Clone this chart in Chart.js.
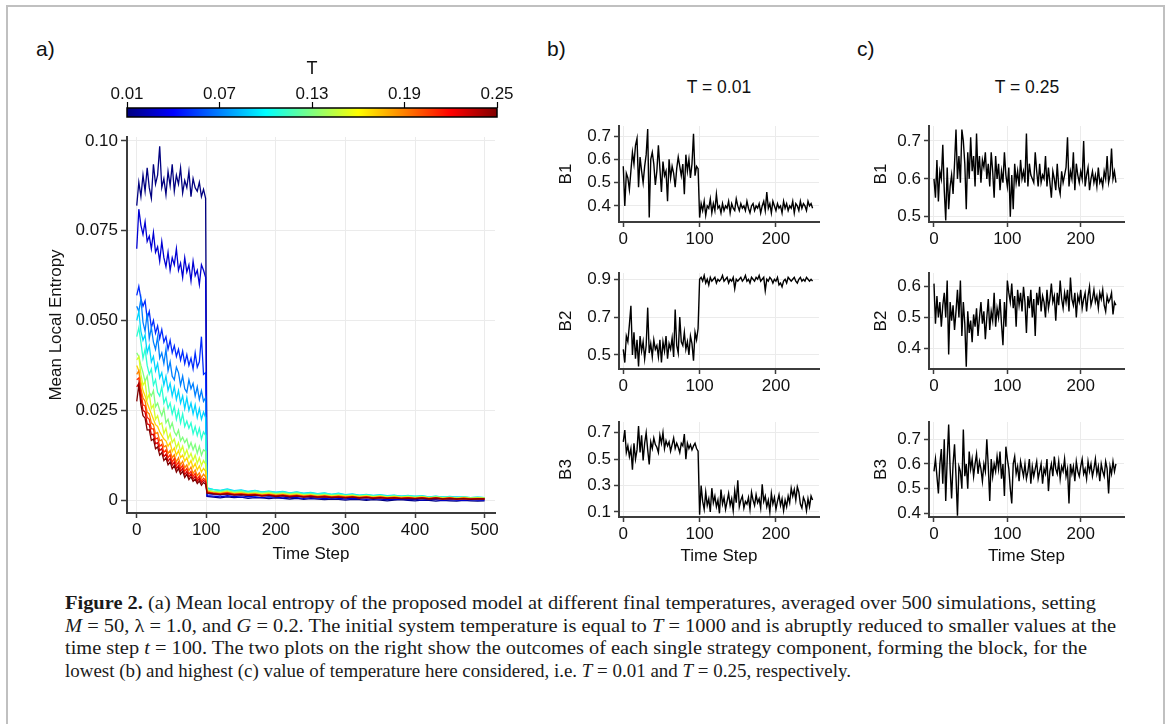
<!DOCTYPE html>
<html>
<head>
<meta charset="utf-8">
<script src="https://cdn.jsdelivr.net/npm/chart.js@4.4.1/dist/chart.umd.min.js"></script>
<style>
body { margin: 0; background: #fff; }
#fig { position: relative; width: 1167px; height: 724px; overflow: hidden; background: #fff;
       font-family: "Liberation Sans", Arial, sans-serif; color: #111; }
#frame { position: absolute; left: 6px; top: 5px; width: 1159px; height: 760px; box-sizing: border-box;
         border: 2px solid #c0c0c0; }
canvas { position: absolute; }
.lbl { position: absolute; font-size: 21px; line-height: 21px; }
.ttl { position: absolute; font-size: 17.5px; line-height: 18px; transform: translateX(-50%); white-space: nowrap; }
#caption { position: absolute; left: 65px; top: 592px; font-family: "Liberation Serif", "Times New Roman", serif;
           font-size: 19.5px; line-height: 22.7px; color: #1a1a1a; }
#caption div { white-space: nowrap; }
#caption span { display: inline-block; transform-origin: 0 0; }
</style>
</head>
<body>
<div id="fig">
  <div id="frame"></div>
  <div class="lbl" style="left:36px;top:38px">a)</div>
  <div class="lbl" style="left:547px;top:38px">b)</div>
  <div class="lbl" style="left:857px;top:38px">c)</div>
  <div class="ttl" style="left:719px;top:78px">T = 0.01</div>
  <div class="ttl" style="left:1027px;top:78px">T = 0.25</div>
  <canvas id="cbar"></canvas>
  <canvas id="entropy"></canvas>
  <canvas id="b1"></canvas>
  <canvas id="b2"></canvas>
  <canvas id="b3"></canvas>
  <canvas id="c1"></canvas>
  <canvas id="c2"></canvas>
  <canvas id="c3"></canvas>
  <div id="caption">
    <div><span><b>Figure 2.</b> (a) Mean local entropy of the proposed model at different final temperatures, averaged over 500 simulations, setting</span></div>
    <div><span><i>M</i> = 50, λ = 1.0, and <i>G</i> = 0.2. The initial system temperature is equal to <i>T</i> = 1000 and is abruptly reduced to smaller values at the</span></div>
    <div><span>time step <i>t</i> = 100. The two plots on the right show the outcomes of each single strategy component, forming the block, for the</span></div>
    <div><span>lowest (b) and highest (c) value of temperature here considered, i.e. <i>T</i> = 0.01 and <i>T</i> = 0.25, respectively.</span></div>
  </div>
</div>
<script>
// ---- panel a: mean local entropy, values in units of 1e-4 ----
var temps = [0.01, 0.03, 0.05, 0.07, 0.09, 0.11, 0.13, 0.15, 0.17, 0.19, 0.21, 0.23, 0.25];
var stepsPre = [0,3,6,9,12,15,18,21,24,27,30,33,36,39,42,45,48,51,54,57,60,63,66,69,72,75,78,81,84,87,90,93,96,99];
var stepsPost = [101,110,120,130,140,150,160,170,180,190,200,210,220,230,240,250,260,270,280,290,300,
                 310,320,330,340,350,360,370,380,390,400,410,420,430,440,450,460,470,480,490,500];

var pre001 = [820,885,845,905,860,925,870,840,935,880,905,985,870,895,850,915,875,935,860,905,880,925,855,890,870,915,845,895,870,860,885,845,865,840];
var pre003 = [700,810,765,740,775,720,735,700,745,690,705,665,720,675,650,690,640,675,655,700,640,660,620,675,635,655,610,665,625,640,600,655,640,620];
var pre005 = [570,595,560,540,555,505,525,480,500,465,485,450,475,440,455,420,445,410,430,400,420,390,415,380,405,375,395,365,410,370,385,455,350,355];
var pre007 = [540,525,560,495,470,520,450,480,440,420,455,395,410,380,420,360,385,345,335,370,355,320,345,310,300,335,310,325,290,315,280,305,275,285];
var pre009 = [500,525,470,445,460,410,430,385,400,360,380,340,355,320,345,305,325,290,315,280,305,270,290,255,285,250,270,240,265,230,255,225,245,230];
var pre011 = [455,480,440,395,420,375,350,365,320,335,300,290,315,270,285,255,270,240,260,225,250,215,240,205,220,200,215,185,205,180,200,170,190,180];
var pre013 = [410,400,375,355,330,345,300,290,305,260,270,250,235,255,215,225,200,215,190,180,195,165,175,160,170,145,160,140,155,130,150,125,140,135];
var pre015 = [390,400,350,320,330,280,295,255,265,225,235,210,215,185,200,170,185,160,170,145,160,135,150,125,140,118,130,110,125,102,118,96,110,100];
var pre017 = [375,360,330,305,290,270,255,240,225,210,205,190,180,170,165,150,160,135,145,125,138,118,125,108,118,98,110,90,102,84,95,78,88,80];
var pre019 = [350,360,310,285,275,245,240,215,210,185,188,165,168,148,152,130,138,118,126,106,118,98,108,90,98,82,92,74,84,68,76,62,72,65];
var pre021 = [335,340,300,265,262,230,225,198,198,170,173,150,155,133,140,118,126,106,116,96,106,88,97,80,88,72,80,66,74,58,67,53,61,55];
var pre023 = [315,325,285,250,245,212,210,182,183,157,160,138,143,121,128,108,116,97,106,87,96,80,88,71,80,64,73,58,66,52,60,48,55,50];
var pre025 = [275,320,265,235,228,195,196,166,170,143,148,125,132,110,118,98,106,87,96,78,88,72,80,63,72,57,65,52,58,46,53,41,49,44];

var post001 = [10,8,6,9,7,8,5,7,6,4,6,5,3,5,2,4,3,1,3,2,0,2,1,-1,1,0,-2,0,1,-1,-2,0,-1,-3,-1,-2,-3,-1,-2,-3,-2];
var post003 = [12,11,9,12,10,8,10,9,7,9,8,6,8,7,5,7,6,4,6,5,3,5,4,2,4,3,1,3,2,1,2,0,2,1,-1,1,0,-1,1,0,0];
var post005 = [18,16,14,17,15,13,15,12,14,11,13,12,10,12,9,11,10,8,10,9,7,9,8,6,8,7,5,7,6,4,6,5,3,5,4,2,4,3,2,3,2];
var post007 = [26,23,21,24,20,22,19,21,18,20,17,19,16,18,15,17,14,16,13,15,12,14,11,13,10,12,9,11,10,8,10,9,7,9,8,6,8,7,5,6,5];
var post009 = [34,30,27,31,26,28,24,27,23,25,22,24,20,23,19,21,18,20,16,19,15,17,14,16,13,15,12,14,11,13,10,12,9,11,8,10,8,9,7,8,7];
var post011 = [32,29,26,29,25,27,23,26,22,24,21,23,19,22,18,20,17,19,16,18,14,16,13,15,12,14,11,13,10,12,10,11,9,10,8,9,7,9,7,8,7];
var post013 = [28,25,23,26,22,24,20,22,19,21,18,20,17,19,15,17,14,16,13,15,12,14,11,13,10,12,9,11,9,10,8,10,7,9,7,8,6,8,6,7,6];
var post015 = [26,23,21,24,20,21,18,20,17,19,16,18,15,17,14,15,13,14,12,13,11,13,10,12,9,11,9,10,8,9,7,9,6,8,6,7,5,7,5,6,5];
var post017 = [24,21,19,22,18,20,17,18,15,17,14,16,13,15,12,14,11,13,10,12,10,11,9,10,8,10,7,9,7,8,6,8,6,7,5,6,5,6,4,5,5];
var post019 = [23,20,18,21,17,18,16,17,14,16,13,15,12,14,11,13,10,12,9,11,9,10,8,9,7,9,6,8,6,7,5,7,5,6,4,6,4,5,4,5,4];
var post021 = [22,19,17,20,16,17,15,16,13,15,12,14,11,13,10,12,9,11,8,10,8,9,7,9,6,8,6,7,5,7,5,6,4,6,4,5,3,5,3,4,4];
var post023 = [20,18,16,18,15,16,14,15,12,14,11,13,10,12,9,11,8,10,8,9,7,9,6,8,6,7,5,7,5,6,4,6,4,5,3,5,3,4,3,4,3];
var post025 = [19,17,15,17,14,15,13,14,11,13,10,12,9,11,8,10,8,9,7,8,6,8,6,7,5,7,5,6,4,5,4,5,3,5,3,4,3,4,2,3,3];

var entropyPre = [pre001, pre003, pre005, pre007, pre009, pre011, pre013, pre015, pre017, pre019, pre021, pre023, pre025];
var entropyPost = [post001, post003, post005, post007, post009, post011, post013, post015, post017, post019, post021, post023, post025];

var entropyTicks = [0, 0.025, 0.05, 0.075, 0.1];
var entropyTickLabels = ['0', '0.025', '0.050', '0.075', '0.10'];
var timeTicksA = [0, 100, 200, 300, 400, 500];
var cbarTicks = [0.01, 0.07, 0.13, 0.19, 0.25];
var cbarTickLabels = ['0.01', '0.07', '0.13', '0.19', '0.25'];

// ---- panels b, c: block components, values in hundredths ----
var blockSteps = [0,2,4,6,8,10,12,14,16,18,20,22,24,26,28,30,32,34,36,38,40,42,44,46,48,50,52,54,56,58,60,62,64,66,68,70,72,74,76,78,
  80,82,84,86,88,90,92,94,96,98,100,102,104,106,108,110,112,114,116,118,120,122,124,126,128,130,132,134,136,138,140,142,144,146,148,
  150,152,154,156,158,160,162,164,166,168,170,172,174,176,178,180,182,184,186,188,190,192,194,196,198,200,202,204,206,208,210,212,214,
  216,218,220,222,224,226,228,230,232,234,236,238,240,242,244,246,248];

var lowB1 = [57,40,54,52,47,55,63,58,66,69,48,61,55,50,57,62,73,35,60,63,58,49,55,66,56,46,59,53,55,42,60,52,57,54,48,56,61,57,53,58,
  45,62,55,60,52,58,71,53,57,56,35,41,38,42,36,40,39,43,37,41,38,45,39,40,37,41,38,40,39,42,37,41,39,38,43,40,38,41,39,40,
  38,42,39,37,40,41,38,40,39,41,37,40,42,38,46,39,41,37,42,40,38,41,39,40,37,42,39,41,38,40,39,42,37,41,40,38,42,39,41,40,
  38,42,40,41,39];
var lowB2 = [53,46,60,57,66,76,50,62,48,58,44,60,52,57,48,55,75,51,56,49,58,53,55,49,58,46,57,52,60,48,56,53,59,49,74,55,51,70,57,55,
  62,53,57,50,60,56,47,62,58,64,90,91,89,92,88,90,87,91,89,90,91,88,90,89,90,92,89,90,91,88,90,89,91,85,90,89,90,91,89,90,
  92,89,90,88,91,90,89,91,90,92,89,90,91,84,90,89,91,90,88,90,89,91,87,88,86,89,90,88,91,90,89,90,91,89,88,90,91,89,90,89,
  91,90,89,90,89];
var lowB3 = [63,72,55,60,52,58,42,62,50,57,75,55,68,49,62,70,57,46,63,58,66,61,59,55,68,62,70,58,64,60,63,56,61,66,58,62,59,55,62,60,
  69,50,62,58,61,57,60,62,58,56,8,30,18,12,25,15,20,10,28,17,22,14,19,9,27,16,21,12,18,24,15,20,11,26,17,34,14,19,22,13,
  18,16,21,12,25,19,15,23,17,20,13,31,18,22,14,19,10,24,16,21,12,18,23,15,20,11,19,14,22,17,28,22,27,19,29,25,16,13,21,18,
  11,20,14,22,19];
var highB1 = [60,55,65,54,62,60,69,57,49,63,52,58,61,56,64,73,60,66,59,73,70,64,52,67,60,71,62,66,58,72,61,66,59,65,63,67,60,64,58,67,
  62,55,66,60,64,57,62,59,67,61,58,63,50,61,52,64,59,62,58,65,60,62,59,72,58,64,61,60,59,67,62,58,64,59,61,60,66,58,63,59,
  55,62,60,57,64,58,56,62,59,61,63,71,58,62,60,67,57,64,61,59,62,60,70,58,61,63,57,60,62,59,61,58,63,59,60,58,62,60,66,59,
  61,68,60,62,59];
var highB2 = [61,48,57,50,55,47,54,58,50,62,38,55,49,54,46,52,59,50,62,44,55,48,34,52,45,49,42,51,47,53,44,50,55,48,52,43,50,56,46,52,
  49,58,47,53,50,56,48,41,55,47,62,58,55,61,53,57,47,59,54,58,52,60,55,45,57,53,59,50,56,44,58,54,60,52,57,55,50,59,53,56,
  61,55,57,49,58,54,62,56,53,58,55,59,52,63,56,54,58,50,57,55,59,53,56,58,52,57,60,54,56,59,55,57,53,58,56,59,54,52,57,55,
  56,58,51,55,54];
var highB3 = [57,62,55,48,60,66,52,70,45,62,76,58,46,60,68,55,39,59,57,50,74,55,60,50,65,58,62,55,60,64,56,61,58,53,60,57,70,59,45,62,
  55,60,57,63,58,65,54,60,47,67,62,58,50,44,60,63,56,59,53,61,58,55,60,54,57,62,52,59,55,58,61,54,57,60,52,58,56,62,49,57,
  60,55,63,58,56,61,54,59,57,62,55,58,44,60,56,59,53,61,57,55,59,62,56,58,54,61,57,60,55,58,62,56,59,53,60,57,55,61,58,48,
  59,56,61,57,60];

var blockTicksX = [0, 100, 200];
var b1Ticks = [0.4, 0.5, 0.6, 0.7];
var b2Ticks = [0.5, 0.7, 0.9];
var b3Ticks = [0.1, 0.3, 0.5, 0.7];
var c1Ticks = [0.5, 0.6, 0.7];
var c2Ticks = [0.4, 0.5, 0.6];
var c3Ticks = [0.4, 0.5, 0.6, 0.7];

// ---- helpers ----
Chart.defaults.font.family = '"Liberation Sans", Arial, sans-serif';
var GRID = '#ebebeb', AXIS = '#3c3c3c', TXT = '#111';
var FS = 17;

function jet(t) {
  function c(v) { return Math.max(0, Math.min(1, v)); }
  var r = c(1.5 - Math.abs(4 * t - 3)), g = c(1.5 - Math.abs(4 * t - 2)), b = c(1.5 - Math.abs(4 * t - 1));
  return 'rgb(' + Math.round(r * 255) + ',' + Math.round(g * 255) + ',' + Math.round(b * 255) + ')';
}

function axis(min, max, ticks, labels, tl, pad, title) {
  return {
    type: 'linear', min: min, max: max,
    afterBuildTicks: function (s) { s.ticks = ticks.map(function (v) { return { value: v }; }); },
    grid: { color: GRID, lineWidth: 1, tickLength: tl, tickColor: AXIS, tickWidth: 1.5 },
    border: { color: AXIS, width: 2 },
    ticks: { autoSkip: false, maxRotation: 0, padding: pad, color: TXT, font: { size: FS },
      callback: function (v, i) { return labels ? labels[i] : String(v); } },
    title: { display: !!title, text: title || '', color: TXT, font: { size: FS } }
  };
}

// box = [left, top, width, height] of canvas, plot = [left, top, right, bottom] of chart area (page px)
function lineChart(id, box, plot, datasets, xa, ya) {
  var cv = document.getElementById(id);
  cv.style.left = box[0] + 'px';
  cv.style.top = box[1] + 'px';
  cv.width = box[2];
  cv.height = box[3];
  xa.afterFit = function (s) { s.height = box[1] + box[3] - plot[3]; };
  ya.afterFit = function (s) { s.width = plot[0] - box[0]; };
  xa.title.padding = { top: 0, bottom: 7.8 };
  ya.title.padding = { top: 7.3, bottom: 0 };
  return new Chart(cv, {
    type: 'line',
    data: { datasets: datasets },
    options: {
      responsive: false, animation: false, devicePixelRatio: 1,
      layout: { padding: { left: 0, top: plot[1] - box[1], right: box[0] + box[2] - plot[2], bottom: 0 } },
      plugins: { legend: { display: false }, tooltip: { enabled: false } },
      elements: { point: { radius: 0 }, line: { tension: 0 } },
      scales: { x: xa, y: ya }
    }
  });
}

// ---- colorbar ----
(function () {
  var cv = document.getElementById('cbar');
  cv.style.left = '100px'; cv.style.top = '50px';
  cv.width = 430; cv.height = 75;
  new Chart(cv, {
    type: 'line',
    data: { datasets: [] },
    options: {
      responsive: false, animation: false, devicePixelRatio: 1,
      layout: { padding: { left: 27, right: 33, top: 0, bottom: 8 } },
      plugins: { legend: { display: false }, tooltip: { enabled: false } },
      scales: {
        x: {
          type: 'linear', position: 'top', min: temps[0], max: temps[temps.length - 1],
          afterBuildTicks: function (s) { s.ticks = cbarTicks.map(function (v) { return { value: v }; }); },
          afterFit: function (s) { s.height = 58; },
          grid: { drawOnChartArea: false, tickLength: 6, tickColor: '#000', tickWidth: 1.2 },
          border: { display: false },
          ticks: { autoSkip: false, maxRotation: 0, padding: -3, color: TXT, font: { size: FS },
            callback: function (v, i) { return cbarTickLabels[i]; } },
          title: { display: true, text: 'T', color: TXT, font: { size: 18 }, padding: { top: 8.2, bottom: 0 } }
        },
        y: { display: false, min: 0, max: 1 }
      }
    },
    plugins: [{
      id: 'jetbar',
      beforeDatasetsDraw: function (c) {
        var a = c.chartArea, ctx = c.ctx;
        var g = ctx.createLinearGradient(a.left, 0, a.right, 0);
        for (var k = 0; k <= 16; k++) g.addColorStop(k / 16, jet(k / 16));
        ctx.save();
        ctx.fillStyle = g;
        ctx.fillRect(a.left, a.top, a.right - a.left, a.bottom - a.top);
        ctx.strokeStyle = '#000';
        ctx.lineWidth = 1.5;
        ctx.strokeRect(a.left, a.top, a.right - a.left, a.bottom - a.top);
        ctx.restore();
      }
    }]
  });
})();

// ---- panel a ----
var entropySets = [];
for (var i = temps.length - 1; i >= 0; i--) {
  var pre = entropyPre[i], post = entropyPost[i];
  var pts = stepsPre.map(function (x, j) { return { x: x, y: pre[j] / 1e4 }; })
    .concat(stepsPost.map(function (x, j) { return { x: x, y: post[j] / 1e4 }; }));
  var t = (temps[i] - temps[0]) / (temps[temps.length - 1] - temps[0]);
  entropySets.push({ label: 'T = ' + temps[i], data: pts, borderColor: jet(t), borderWidth: 1.3 });
}
lineChart('entropy', [39, 120, 481, 452], [127, 137, 495, 513], entropySets,
  axis(-14, 515, timeTicksA, null, 5, 2, 'Time Step'),
  axis(-0.0036, 0.1011, entropyTicks, entropyTickLabels, 6, 3, 'Mean Local Entropy'));

// ---- panels b and c ----
function blockSet(vals) {
  return [{ data: blockSteps.map(function (x, j) { return { x: x, y: vals[j] / 100 }; }), borderColor: '#000', borderWidth: 1.4 }];
}
function fmt1(arr) { return arr.map(function (v) { return v.toFixed(1); }); }

lineChart('b1', [549, 110, 291, 145], [619, 126, 819, 222], blockSet(lowB1),
  axis(-5.6, 256.4, blockTicksX, null, 5, 2, ''), axis(0.331, 0.743, b1Ticks, fmt1(b1Ticks), 5, 3, 'B1'));
lineChart('b2', [549, 258, 291, 145], [619, 273, 819, 369], blockSet(lowB2),
  axis(-5.6, 256.4, blockTicksX, null, 5, 2, ''), axis(0.426, 0.933, b2Ticks, fmt1(b2Ticks), 5, 3, 'B2'));
lineChart('b3', [549, 406, 291, 168], [619, 422, 819, 517], blockSet(lowB3),
  axis(-5.6, 256.4, blockTicksX, null, 5, 2, 'Time Step'), axis(0.062, 0.781, b3Ticks, fmt1(b3Ticks), 5, 3, 'B3'));

lineChart('c1', [864, 110, 300, 145], [929, 126, 1124, 222], blockSet(highB1),
  axis(-6.8, 259, blockTicksX, null, 5, 2, ''), axis(0.486, 0.7396, c1Ticks, fmt1(c1Ticks), 5, 3, 'B1'));
lineChart('c2', [864, 258, 300, 145], [929, 273, 1124, 369], blockSet(highB2),
  axis(-6.8, 259, blockTicksX, null, 5, 2, ''), axis(0.333, 0.6445, c2Ticks, fmt1(c2Ticks), 5, 3, 'B2'));
lineChart('c3', [864, 406, 300, 168], [929, 422, 1124, 517], blockSet(highB3),
  axis(-6.8, 259, blockTicksX, null, 5, 2, 'Time Step'), axis(0.385, 0.770, c3Ticks, fmt1(c3Ticks), 5, 3, 'B3'));

// ---- caption: fit each line to the width it has in the figure ----
var captionWidths = [1031, 1051, 1022, 786];
var spans = document.querySelectorAll('#caption span');
for (var k = 0; k < spans.length; k++) {
  var w = spans[k].getBoundingClientRect().width;
  spans[k].style.transform = 'scaleX(' + (captionWidths[k] / w) + ')';
}
</script>
</body>
</html>
